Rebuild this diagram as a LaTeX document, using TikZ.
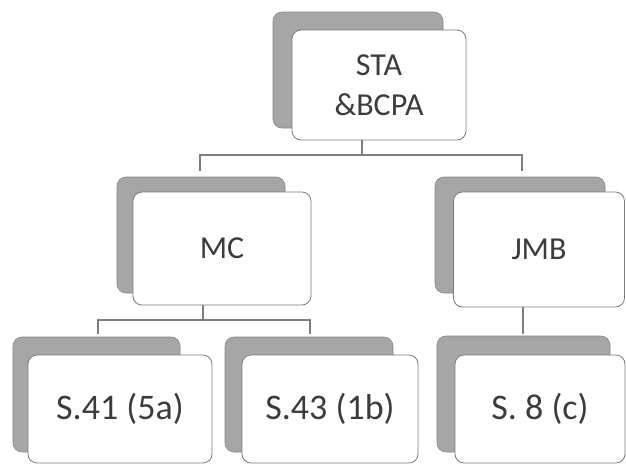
\documentclass[tikz,border=0pt]{standalone}
\usepackage{fontspec}
\setmainfont{Carlito}
\definecolor{txt}{HTML}{3C3C3C}
\definecolor{shd}{HTML}{A6A6A6}
\definecolor{edge}{HTML}{7A7A7A}
\definecolor{lnk}{HTML}{7E7E7E}
\begin{document}
\begin{tikzpicture}[x=1pt,y=-1pt,
  box/.style={draw=edge,line width=0.8pt,fill=white,rounded corners=9pt,
    inner sep=0pt,text=txt,font=\fontsize{32}{40}\selectfont,align=center},
  lowbox/.style={box,minimum height=108pt,font=\fontsize{36}{40}\selectfont},
  shadowbox/.style={fill=shd,draw=shd!80!black,line width=0.6pt,rounded corners=9pt},
  conn/.style={draw=lnk,line width=2.6pt}]
\useasboundingbox (0,0) rectangle (626,467);
% shadows
\fill[shadowbox] (273,12) rectangle (443,128);
\fill[shadowbox] (117,177) rectangle (285,293);
\fill[shadowbox] (435,177) rectangle (605,293);
\fill[shadowbox] (13,337) rectangle (180,452);
\fill[shadowbox] (225,337) rectangle (393,452);
\fill[shadowbox] (437,336) rectangle (610,452);
% boxes
\node[box,minimum width=174pt,minimum height=110pt] (top) at (379,85) {STA\\\&BCPA};
\node[box,minimum width=178pt,minimum height=113pt] (mc) at (222,248.5) {MC};
\node[box,minimum width=171pt,minimum height=115pt] (jmb) at (539,249.5) {JMB};
\node[lowbox,minimum width=184pt] (s41) at (120,409) {S.41 (5a)};
\node[lowbox,minimum width=176pt] (s43) at (330,409) {S.43 (1b)};
\node[lowbox,minimum width=170pt] (s8) at (540,409) {S. 8 (c)};
% junctions
\coordinate (j1) at (362,155);
\coordinate (d1) at (200,171);
\coordinate (d2) at (522,171);
\coordinate (j2) at (203,320);
\coordinate (d3) at (98,334);
\coordinate (d4) at (310,334);
\coordinate (d5) at (523,334);
% connectors
\draw[conn] (j1 |- top.south) -- (j1);
\draw[conn] (d1) -- (d1 |- j1) -- (d2 |- j1) -- (d2);
\draw[conn] (j2 |- mc.south) -- (j2);
\draw[conn] (d3) -- (d3 |- j2) -- (d4 |- j2) -- (d4);
\draw[conn] (d5 |- jmb.south) -- (d5);
\end{tikzpicture}
\end{document}
